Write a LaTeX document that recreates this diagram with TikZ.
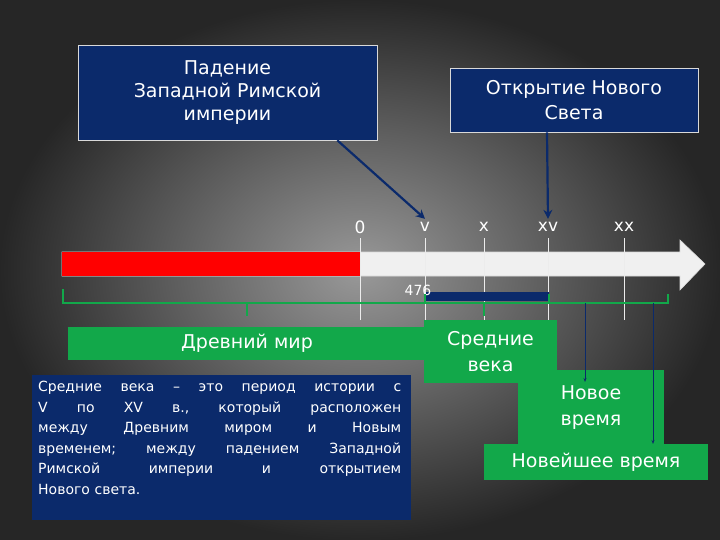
\documentclass[tikz,border=0pt]{standalone}
\usepackage{fontspec}
\setmainfont{DejaVu Sans}
\usetikzlibrary{arrows.meta}
\definecolor{navy}{HTML}{0B2A6B}
\definecolor{grn}{HTML}{12A84A}
\begin{document}
\begin{tikzpicture}[x=1pt,y=-1pt,
  navybox/.style={fill=navy,draw=white!70!gray,line width=0.6pt,text=white,align=center,inner sep=0pt},
  grnbox/.style={fill=grn,text=white,align=center,inner sep=0pt},
  vline/.style={white!85!gray,line width=0.6pt},
  ptr/.style={navy,line width=2.2pt,-{Stealth[length=9pt,width=9pt]}},
  thin/.style={navy,line width=1pt,-{Stealth[length=4pt]}},
  lbl/.style={text=white,font=\fontsize{17}{18}\selectfont}]
\useasboundingbox (0,0) rectangle (720,540);
\shade[inner color=gray!80!white, outer color=black!85] (0,0) rectangle (720,540);
% title boxes
\node[navybox,minimum width=299pt,minimum height=95pt,font=\fontsize{19}{23}\selectfont] (fall) at (227.5,92.5) {Падение\\Западной Римской\\империи};
\node[navybox,minimum width=248pt,minimum height=64pt,font=\fontsize{19}{25}\selectfont] (disc) at (574,100) {Открытие Нового\\Света};
% big arrow
\draw[fill=white!88!gray,draw=white!70!gray,line width=0.6pt] (62,252) -- (680,252) -- (680,240) -- (705,264) -- (680,290) -- (680,276) -- (62,276) -- cycle;
\fill[red] (62.3,252.3) rectangle (360,275.7);
% vertical lines
\foreach \x in {360,425,484,548,624}{
  \draw[vline] (\x,238) -- (\x,320);
}
\node[lbl] (l0) at (360,227) {0};
\node[lbl] (lv) at (425,227) {v};
\node[lbl] (lx) at (484,227) {x};
\node[lbl] (lxv) at (548,227) {xv};
\node[lbl] (lxx) at (624,227) {xx};
\draw[ptr] (fall.south east) ++(-40,0) coordinate (p1) -- (lv.north);
\draw[ptr] (disc.south) ++(-27,0) coordinate (p2) -- (lxv.north);
% navy bar and 476
\fill[navy] (426,292) rectangle (549,301);
\node[text=white,font=\fontsize{14}{14}\selectfont] (y476) at (418,290) {476};
% green brace
\draw[grn,line width=2.2pt] (63,289) -- (63,303) -- (668,303) -- (668,294);
\foreach \x in {247,484}{\draw[grn,line width=2.2pt] (\x,303) -- (\x,316);}
\foreach \x in {425,549}{\draw[grn,line width=2.2pt] (\x,303) -- (\x,294);}
% green boxes
\node[grnbox,minimum width=368pt,minimum height=33pt,font=\fontsize{19}{22}\selectfont] (anc) at (252,343.5) {\hspace*{-10pt}Древний мир};
\node[grnbox,minimum width=133pt,minimum height=63pt,font=\fontsize{19}{26}\selectfont] (mid) at (490.5,351.5) {Средние\\века};
\node[grnbox,minimum width=146pt,minimum height=75pt,font=\fontsize{19}{26}\selectfont] (mod) at (591,407.5) {Новое\\время};
\node[grnbox,minimum width=224pt,minimum height=36pt,font=\fontsize{19}{22}\selectfont] (new) at (596,462) {Новейшее время};
\coordinate (t1) at (585,303);
\coordinate (t2) at (653,303);
\draw[thin] (t1) -- (585,382);
\draw[thin] (t2) -- (653,444);
% description
\fill[navy] (32,375) rectangle (411,520);
\node[text=white,text width=363pt,align=left,inner sep=0pt,font=\fontsize{14}{20.5}\selectfont,anchor=north west] (desc) at (38,381) {%
\hbox to 363pt{Средние\hfill века\hfill –\hfill это\hfill период\hfill истории\hfill с}
\hbox to 363pt{V\hfill по\hfill XV\hfill в.,\hfill который\hfill расположен}
\hbox to 363pt{между\hfill Древним\hfill миром\hfill и\hfill Новым}
\hbox to 363pt{временем;\hfill между\hfill падением\hfill Западной}
\hbox to 363pt{Римской\hfill империи\hfill и\hfill открытием}
Нового света.};
\end{tikzpicture}
\end{document}
